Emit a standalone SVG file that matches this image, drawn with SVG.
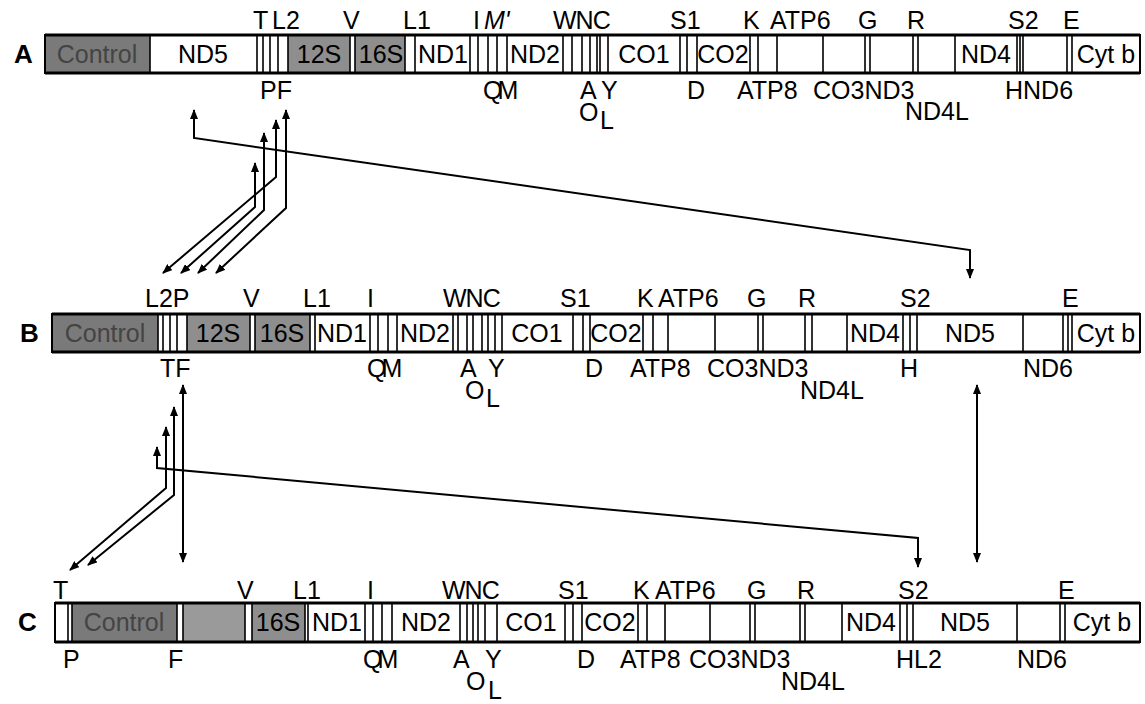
<svg xmlns="http://www.w3.org/2000/svg" width="1145" height="704" viewBox="0 0 1145 704">
<defs>
<marker id="ah" viewBox="0 0 10 8" refX="9" refY="4" markerWidth="10" markerHeight="8" markerUnits="userSpaceOnUse" orient="auto-start-reverse"><path d="M0,0 L10,4 L0,8 z" fill="#000"/></marker>
<style>
.bg{fill:#fff}
.ctl{fill:#7a7a7a}
.rr{fill:#8e8e8e}
.rr2{fill:#9a9a9a}
.div{stroke:#000;stroke-width:1.6;fill:none}
.edge{stroke:#000;stroke-width:3;fill:none}
.frame{stroke:#000;stroke-width:2;fill:none}
text{font-family:"Liberation Sans",Arial,sans-serif;font-size:25px;fill:#000}
.in{text-anchor:middle}
.ct{fill:#444}
.row{font-weight:bold;font-size:26px}
.it{font-style:italic}
.conn{stroke:#000;stroke-width:2;fill:none}
</style>
</defs>

<g id="genomeA">
<text class="row" x="14" y="63">A</text>
<rect class="bg" x="45" y="35" width="1095" height="38"/>
<rect class="ctl" x="45" y="35" width="105" height="38"/>
<rect class="rr" x="288" y="35" width="62" height="38"/>
<rect class="rr" x="355" y="35" width="50" height="38"/>
<path class="div" d="M150,35V73M257,35V73M263,35V73M270,35V73M278,35V73M288,35V73M350,35V73M355,35V73M405,35V73M415,35V73M470,35V73M478,35V73M488,35V73M497,35V73M507,35V73M563,35V73M572,35V73M582,35V73M590,35V73M597,35V73M600,35V73M608,35V73M680,35V73M687,35V73M697,35V73M750,35V73M758,35V73M777,35V73M823,35V73M865,35V73M870,35V73M913,35V73M918,35V73M955,35V73M1017,35V73M1020,35V73M1023,35V73M1067,35V73M1072,35V73"/>
<rect class="frame" x="45" y="35" width="1095" height="38"/>
<path class="edge" d="M45,35H1140M45,73H1140"/>
<g id="A-control"><text class="in ct" x="97" y="63">Control</text></g>
<g id="A-ND5"><text class="in" x="203" y="63">ND5</text></g>
<g id="A-12S"><text class="in" x="319" y="63">12S</text></g>
<g id="A-16S"><text class="in" x="381" y="63">16S</text></g>
<g id="A-ND1"><text class="in" x="443" y="63">ND1</text></g>
<g id="A-ND2"><text class="in" x="535" y="63">ND2</text></g>
<g id="A-CO1"><text class="in" x="644" y="63">CO1</text></g>
<g id="A-CO2"><text class="in" x="723" y="63">CO2</text></g>
<g id="A-ND4"><text class="in" x="986" y="63">ND4</text></g>
<g id="A-Cytb"><text class="in" x="1106" y="63">Cyt b</text></g>
<g id="A-labels">
<text x="253" y="29">T</text><text x="272" y="29">L2</text><text x="343" y="29">V</text><text x="403" y="29">L1</text>
<text x="473" y="29">I</text><text class="it" x="484" y="29">M'</text><text x="553" y="29" letter-spacing="-1">WNC</text>
<text x="670" y="29">S1</text><text x="743" y="29">K</text><text x="770" y="29">ATP6</text><text x="858" y="29">G</text>
<text x="907" y="29">R</text><text x="1008" y="29">S2</text><text x="1063" y="29">E</text>
<text x="260" y="99">PF</text><text x="483" y="99" letter-spacing="-5">QM</text><text x="580" y="99">A</text><text x="601" y="99">Y</text>
<text x="579" y="121">O</text><text x="600" y="129">L</text>
<text x="687" y="99">D</text><text x="737" y="99">ATP8</text><text x="813" y="99">CO3ND3</text>
<text x="905" y="120">ND4L</text><text x="1005" y="99">HND6</text>
</g>
</g>

<g id="genomeB">
<text class="row" x="20" y="342">B</text>
<rect class="bg" x="52" y="314" width="1088" height="38"/>
<rect class="ctl" x="52" y="314" width="106" height="38"/>
<rect class="rr" x="187" y="314" width="63" height="38"/>
<rect class="rr" x="255" y="314" width="55" height="38"/>
<path class="div" d="M158,314V352M163,314V352M170,314V352M177,314V352M187,314V352M250,314V352M255,314V352M310,314V352M315,314V352M370,314V352M378,314V352M388,314V352M397,314V352M453,314V352M458,314V352M467,314V352M473,314V352M482,314V352M488,314V352M495,314V352M502,314V352M573,314V352M583,314V352M590,314V352M643,314V352M653,314V352M668,314V352M715,314V352M758,314V352M763,314V352M805,314V352M812,314V352M847,314V352M903,314V352M910,314V352M917,314V352M1023,314V352M1063,314V352M1068,314V352M1072,314V352"/>
<rect class="frame" x="52" y="314" width="1088" height="38"/>
<path class="edge" d="M52,314H1140M52,352H1140"/>
<g id="B-control"><text class="in ct" x="105" y="342">Control</text></g>
<g id="B-12S"><text class="in" x="218" y="342">12S</text></g>
<g id="B-16S"><text class="in" x="282" y="342">16S</text></g>
<g id="B-ND1"><text class="in" x="342" y="342">ND1</text></g>
<g id="B-ND2"><text class="in" x="425" y="342">ND2</text></g>
<g id="B-CO1"><text class="in" x="537" y="342">CO1</text></g>
<g id="B-CO2"><text class="in" x="616" y="342">CO2</text></g>
<g id="B-ND4"><text class="in" x="875" y="342">ND4</text></g>
<g id="B-ND5"><text class="in" x="970" y="342">ND5</text></g>
<g id="B-Cytb"><text class="in" x="1106" y="342">Cyt b</text></g>
<g id="B-labels">
<text x="145" y="307">L2P</text><text x="243" y="307">V</text><text x="303" y="307">L1</text><text x="367" y="307">I</text>
<text x="443" y="307" letter-spacing="-1">WNC</text><text x="560" y="307">S1</text><text x="637" y="307">K</text>
<text x="658" y="307">ATP6</text><text x="747" y="307">G</text><text x="798" y="307">R</text><text x="900" y="307">S2</text><text x="1062" y="307">E</text>
<text x="160" y="377">TF</text><text x="367" y="377" letter-spacing="-5">QM</text><text x="460" y="377">A</text><text x="488" y="377">Y</text>
<text x="465" y="399">O</text><text x="486" y="407">L</text>
<text x="585" y="377">D</text><text x="630" y="377">ATP8</text><text x="707" y="377">CO3ND3</text>
<text x="800" y="399">ND4L</text><text x="900" y="377">H</text><text x="1023" y="377">ND6</text>
</g>
</g>

<g id="genomeC">
<text class="row" x="18" y="631">C</text>
<rect class="bg" x="55" y="603" width="1085" height="39"/>
<rect class="ctl" x="72" y="603" width="105" height="39"/>
<rect class="rr2" x="183" y="603" width="62" height="39"/>
<rect class="rr" x="252" y="603" width="53" height="39"/>
<path class="div" d="M68,603V642M72,603V642M177,603V642M183,603V642M245,603V642M252,603V642M305,603V642M308,603V642M365,603V642M373,603V642M382,603V642M392,603V642M460,603V642M467,603V642M473,603V642M478,603V642M485,603V642M497,603V642M565,603V642M573,603V642M582,603V642M638,603V642M647,603V642M665,603V642M710,603V642M750,603V642M755,603V642M800,603V642M805,603V642M842,603V642M900,603V642M907,603V642M913,603V642M1017,603V642M1060,603V642M1065,603V642"/>
<rect class="frame" x="55" y="603" width="1085" height="39"/>
<path class="edge" d="M55,603H1140M55,642H1140"/>
<g id="C-control"><text class="in ct" x="124" y="631">Control</text></g>
<g id="C-16S"><text class="in" x="278" y="631">16S</text></g>
<g id="C-ND1"><text class="in" x="337" y="631">ND1</text></g>
<g id="C-ND2"><text class="in" x="426" y="631">ND2</text></g>
<g id="C-CO1"><text class="in" x="531" y="631">CO1</text></g>
<g id="C-CO2"><text class="in" x="610" y="631">CO2</text></g>
<g id="C-ND4"><text class="in" x="871" y="631">ND4</text></g>
<g id="C-ND5"><text class="in" x="965" y="631">ND5</text></g>
<g id="C-Cytb"><text class="in" x="1102" y="631">Cyt b</text></g>
<g id="C-labels">
<text x="53" y="599">T</text><text x="237" y="599">V</text><text x="293" y="599">L1</text><text x="367" y="599">I</text>
<text x="442" y="599" letter-spacing="-1">WNC</text><text x="558" y="599">S1</text><text x="633" y="599">K</text>
<text x="655" y="599">ATP6</text><text x="747" y="599">G</text><text x="797" y="599">R</text><text x="898" y="599">S2</text><text x="1058" y="599">E</text>
<text x="63" y="668">P</text><text x="168" y="668">F</text><text x="363" y="668" letter-spacing="-5">QM</text>
<text x="453" y="668">A</text><text x="485" y="668">Y</text><text x="466" y="690">O</text><text x="488" y="699">L</text>
<text x="577" y="668">D</text><text x="620" y="668">ATP8</text><text x="689" y="668">CO3ND3</text>
<text x="781" y="690">ND4L</text><text x="896" y="668">HL2</text><text x="1017" y="668">ND6</text>
</g>
</g>

<g id="connectors">
<path class="conn" marker-start="url(#ah)" marker-end="url(#ah)" d="M194,110 L194,138 L970,250 L970,278"/>
<path class="conn" marker-start="url(#ah)" marker-end="url(#ah)" d="M276,120 L276,177 L163,273"/>
<path class="conn" marker-start="url(#ah)" marker-end="url(#ah)" d="M255,163 L255,207 L181,273"/>
<path class="conn" marker-start="url(#ah)" marker-end="url(#ah)" d="M264,133 L264,210 L198,273"/>
<path class="conn" marker-start="url(#ah)" marker-end="url(#ah)" d="M286,110 L286,208 L216,273"/>
<path class="conn" marker-start="url(#ah)" marker-end="url(#ah)" d="M183,385 L183,562"/>
<path class="conn" marker-start="url(#ah)" marker-end="url(#ah)" d="M166,427 L166,488 L70,570"/>
<path class="conn" marker-start="url(#ah)" marker-end="url(#ah)" d="M174,407 L174,495 L88,565"/>
<path class="conn" marker-start="url(#ah)" marker-end="url(#ah)" d="M157,447 L157,468 L918,538 L918,567"/>
<path class="conn" marker-start="url(#ah)" marker-end="url(#ah)" d="M977,385 L977,562"/>
</g>
</svg>
